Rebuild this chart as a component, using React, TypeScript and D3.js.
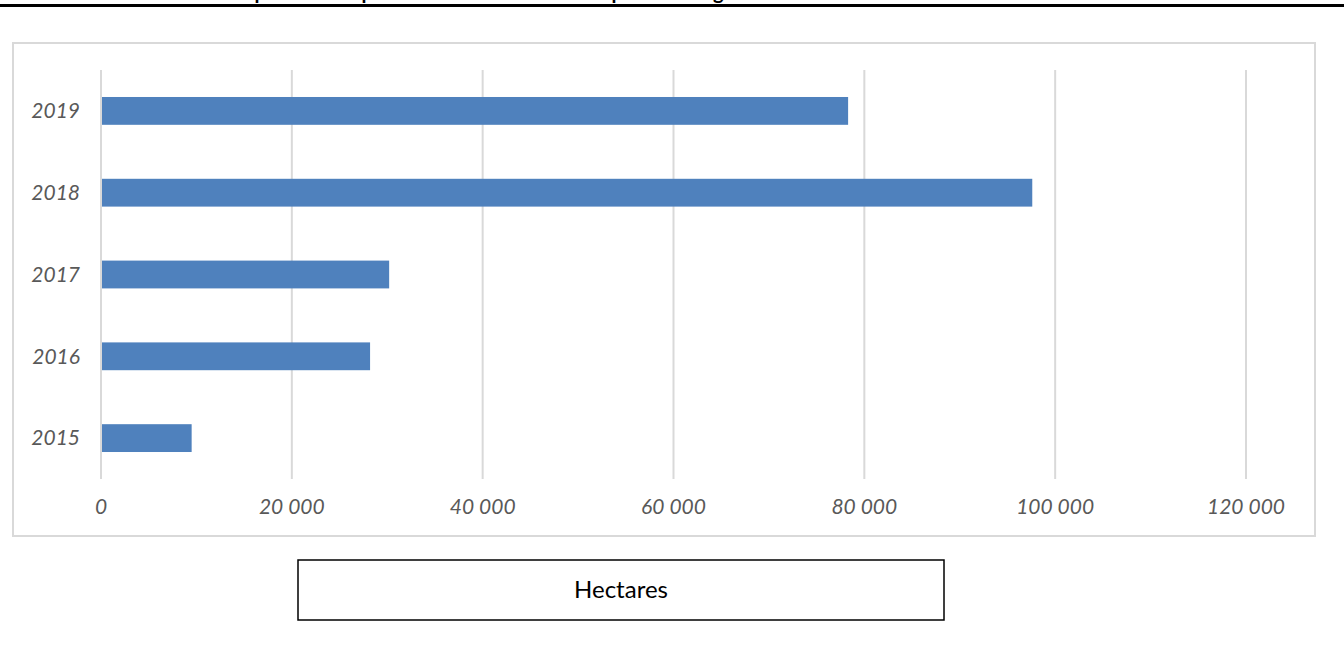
import React from "react";
import * as d3 from "d3";

const years = ["2019", "2018", "2017", "2016", "2015"];
const hectares = [78300, 97600, 30200, 28200, 9500];
const xTicks = [0, 20000, 40000, 60000, 80000, 100000, 120000];
const axisTitle = "Hectares";
const chartTitle = "Gráfico 1. Área cosechada para uso o aprovechamiento de cultivos para fines agrícolas";

const W = 1344;
const H = 656;

export default function App() {
  const x = d3.scaleLinear().domain([0, 120000]).range([101, 1246]);
  const y = d3.scaleBand().domain(years).range([70, 479]).paddingInner(0.66).paddingOuter(0.33);
  const fmt = (v: number) => d3.format(",")(v).replace(/,/g, " ");
  const font = "Lato, 'Open Sans', sans-serif";
  return (
    <svg width={W} height={H} style={{ position: "absolute", left: 0, top: 0, background: "#fff" }}>
      <text x={20} y={-1} fontFamily={font} fontWeight="bold" fontSize={20} fill="#000">{chartTitle}</text>
      <rect x={0} y={4} width={W} height={3} fill="#000" />
      <rect x={13} y={43} width={1302} height={493} fill="#fff" stroke="#d9d9d9" strokeWidth={2} />
      {xTicks.map((t) => (
        <line key={t} x1={x(t)} x2={x(t)} y1={70} y2={479} stroke="#d9d9d9" strokeWidth={2} />
      ))}
      {years.map((yr, i) => (
        <rect key={yr} x={x(0) + 1} y={y(yr)} width={x(hectares[i]) - x(0) - 1} height={y.bandwidth()} fill="#4f81bd" />
      ))}
      {years.map((yr) => (
        <text key={yr} x={80} y={(y(yr) as number) + y.bandwidth() / 2} dy="0.35em" textAnchor="end"
          fontFamily={font} fontStyle="italic" fontSize={21} fill="#595959">{yr}</text>
      ))}
      {xTicks.map((t) => (
        <text key={t} x={x(t)} y={507} dy="0.35em" textAnchor="middle"
          fontFamily={font} fontStyle="italic" fontSize={21} fill="#595959">{fmt(t)}</text>
      ))}
      <rect x={298} y={560} width={646} height={60} fill="#fff" stroke="#000" strokeWidth={1.5} />
      <text x={621} y={590} dy="0.35em" textAnchor="middle" fontFamily={font} fontSize={24} fill="#000">{axisTitle}</text>
    </svg>
  );
}
